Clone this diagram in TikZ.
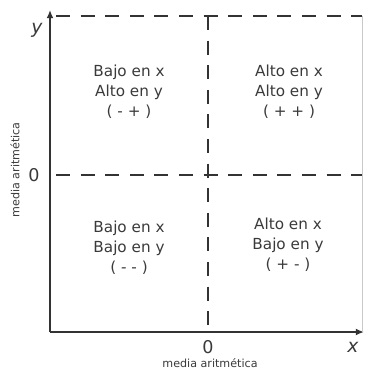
\documentclass[tikz,border=0pt]{standalone}
\usepackage{fontspec}
\setmainfont{DejaVu Sans}
\usepackage{tikz}
\usetikzlibrary{arrows.meta, positioning, calc}
\usepackage{xcolor}
\definecolor{myaxis}{HTML}{333333}
\definecolor{mytext}{HTML}{3A3A3A}
\definecolor{myfaint}{HTML}{C8C8C8}

\begin{document}
\begin{tikzpicture}[x=0.03cm, y=-0.03cm, >={Latex[length=7pt,width=6pt]},
    font=\fontsize{13}{17}\selectfont,
    quad/.style={text=mytext, align=center, inner sep=0pt},
    meanline/.style={myaxis, line width=1.6pt, dash pattern=on 12pt off 9pt},
    axis/.style={myaxis, line width=1.8pt}]
            \useasboundingbox (0,0) rectangle (364,374);
            % axes
            \coordinate (orig) at (50,332);
            \coordinate (ytop) at (50,10);
            \coordinate (xend) at (364,332);
            \draw[axis, ->] (orig) -- (ytop);
            \draw[axis, ->] (orig) -- (xend);
            % mean lines
            \coordinate (tl) at (56,16);
            \coordinate (tr) at (362,16);
            \coordinate (ml) at (56,175);
            \coordinate (mr) at (362,175);
            \coordinate (vt) at (208,16);
            \coordinate (vb) at (208,332);
            \coordinate (rb) at (362,332);
            \draw[meanline] (tl) -- (tr);
            \draw[meanline] (ml) -- (mr);
            \draw[meanline] (vt) -- (vb);
            \draw[myfaint, line width=0.8pt] (tr) -- (rb);
            % quadrants
            \node[quad] (q2) at (129,92) {Bajo en x\\Alto en y\\( - + )};
            \node[quad] (q1) at (289,92) {Alto en x\\Alto en y\\( + + )};
            \node[quad] (q3) at (129,248) {Bajo en x\\Bajo en y\\( - - )};
            \node[quad] (q4) at (288,245) {Alto en x\\Bajo en y\\( + - )};
            % labels
            \node[text=mytext, font=\fontsize{16}{18}\selectfont\itshape] (ylab) at (37,30) {y};
            \node[text=mytext, font=\fontsize{16}{18}\selectfont\itshape] (xlab) at (353,347) {x};
            \node[text=mytext, font=\fontsize{15}{18}\selectfont] (yzero) at (34,175) {0};
            \node[text=mytext, font=\fontsize{15}{18}\selectfont] (xzero) at (208,347) {0};
            \node[text=mytext, font=\fontsize{9.5}{11}\selectfont, rotate=90] (ymean) at (15,170) {media aritmética};
            \node[text=mytext, font=\fontsize{9.5}{11}\selectfont] (xmean) at (210,363) {media aritmética};
        \end{tikzpicture}
\end{document}
